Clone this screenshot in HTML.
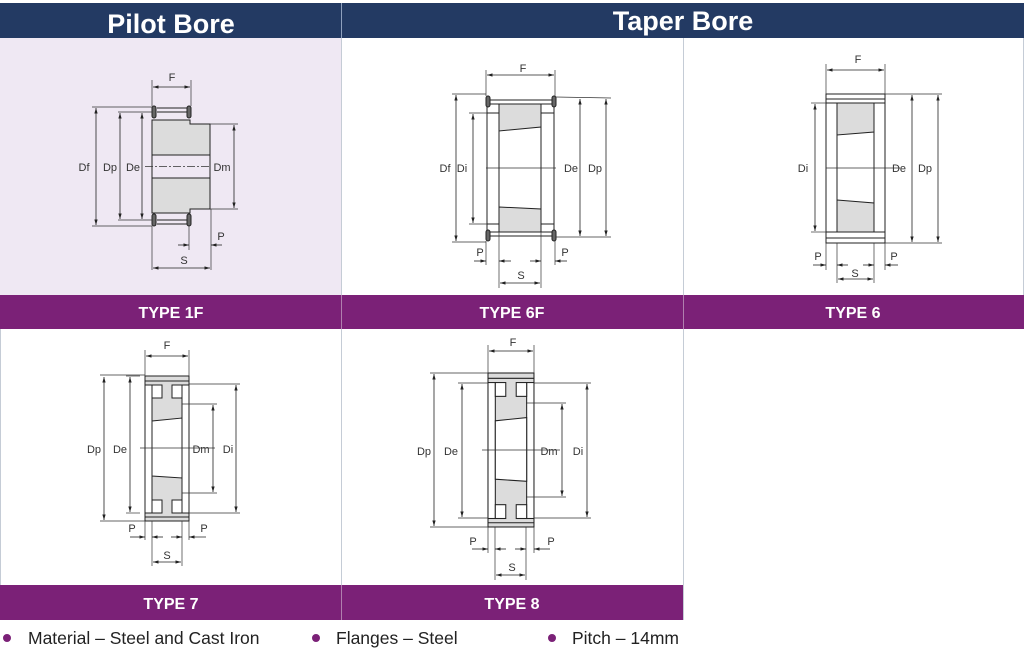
<!DOCTYPE html>
<html><head><meta charset="utf-8"><style>
html,body{margin:0;padding:0;background:#fff;}
svg{display:block;}
text{font-family:"Liberation Sans",sans-serif;}
</style></head><body>
<svg width="1024" height="664" viewBox="0 0 1024 664" xmlns="http://www.w3.org/2000/svg">
<defs>
<marker id="a" viewBox="0 0 10 10" refX="10" refY="5" markerWidth="7" markerHeight="7" orient="auto-start-reverse"><path d="M0,2 L10,5 L0,8 z" fill="#222"/></marker>
</defs>
<rect x="0" y="38" width="341" height="257" fill="#efe8f3"/>
<rect x="0" y="3" width="1024" height="35" fill="#233a63"/>
<line x1="341.5" y1="3" x2="341.5" y2="38" fill="none" stroke="#8fa0bd" stroke-width="1"/>
<text x="171" y="33" fill="#fff" font-size="27" font-weight="bold" text-anchor="middle">Pilot Bore</text>
<text x="683" y="30" fill="#fff" font-size="27" font-weight="bold" text-anchor="middle">Taper Bore</text>
<g stroke="#c5ccd6" stroke-width="1">
<line x1="341.5" y1="38" x2="341.5" y2="620"/>
<line x1="683.5" y1="38" x2="683.5" y2="329"/>
<line x1="1023.5" y1="38" x2="1023.5" y2="329"/>
<line x1="683.5" y1="329" x2="683.5" y2="620"/>
<line x1="0.5" y1="329" x2="0.5" y2="620"/>
</g>
<rect x="0" y="295" width="1024" height="34" fill="#7b2177"/>
<rect x="0" y="585" width="683" height="35" fill="#7b2177"/>
<g stroke="#b07fae"><line x1="341.5" y1="295" x2="341.5" y2="329"/><line x1="683.5" y1="295" x2="683.5" y2="329"/><line x1="341.5" y1="585" x2="341.5" y2="620"/></g>
<g fill="#fff" font-size="16" font-weight="bold" text-anchor="middle">
<text x="171" y="318">TYPE 1F</text><text x="512" y="318">TYPE 6F</text><text x="853" y="318">TYPE 6</text>
<text x="171" y="609">TYPE 7</text><text x="512" y="609">TYPE 8</text>
</g>
<g font-size="17.5" fill="#222">
<circle cx="7" cy="638" r="4" fill="#7b2177"/><text x="28" y="644">Material – Steel and Cast Iron</text>
<circle cx="316" cy="638" r="4" fill="#7b2177"/><text x="336" y="644">Flanges – Steel</text>
<circle cx="552" cy="638" r="4" fill="#7b2177"/><text x="572" y="644">Pitch – 14mm</text>
</g>

<!-- TYPE 1F -->
<g stroke="#222" stroke-width="1" fill="none">
<path d="M152,120 H190 V124 H210 V209 H190 V213 H152 Z" fill="#dcdcdc"/>
<rect x="152" y="155" width="58" height="23" fill="#efe8f3"/>
<line x1="157" y1="108" x2="188" y2="108"/><line x1="157" y1="112" x2="188" y2="112"/>
<line x1="157" y1="220" x2="188" y2="220"/><line x1="157" y1="224" x2="188" y2="224"/>
<rect x="152" y="106" width="4" height="12" rx="2" fill="#666"/><rect x="187" y="106" width="4" height="12" rx="2" fill="#666"/>
<rect x="152" y="214" width="4" height="12" rx="2" fill="#666"/><rect x="187" y="214" width="4" height="12" rx="2" fill="#666"/>
</g>
<g stroke="#333" stroke-width="0.7" fill="none">
<line x1="145" y1="166.5" x2="210" y2="166.5" stroke-dasharray="8,2,2,2"/>
<line x1="152" y1="80" x2="152" y2="106"/><line x1="191" y1="80" x2="191" y2="106"/>
<line x1="92" y1="107" x2="152" y2="107"/><line x1="92" y1="226" x2="152" y2="226"/>
<line x1="118" y1="112" x2="152" y2="112"/><line x1="118" y1="220" x2="152" y2="220"/>
<line x1="210" y1="124" x2="238" y2="124"/><line x1="210" y1="209" x2="238" y2="209"/>
<line x1="152" y1="226" x2="152" y2="270"/><line x1="211" y1="209" x2="211" y2="270"/><line x1="189" y1="226" x2="189" y2="250"/>
</g>
<g stroke="#222" stroke-width="0.8" marker-start="url(#a)" marker-end="url(#a)">
<line x1="96" y1="108" x2="96" y2="225"/><line x1="120" y1="113" x2="120" y2="219"/><line x1="142" y1="113" x2="142" y2="219"/>
<line x1="234" y1="125" x2="234" y2="208"/><line x1="153" y1="87" x2="190" y2="87"/><line x1="153" y1="268" x2="210" y2="268"/>
</g>
<g stroke="#222" stroke-width="0.8"><line x1="178" y1="245" x2="189" y2="245" marker-end="url(#a)"/><line x1="222" y1="245" x2="211" y2="245" marker-end="url(#a)"/></g>
<g font-size="11" fill="#333" text-anchor="middle">
<text x="84" y="171">Df</text><text x="110" y="171">Dp</text><text x="133" y="171">De</text><text x="222" y="171">Dm</text>
<text x="172" y="81">F</text><text x="221" y="240">P</text><text x="184" y="264">S</text>
</g>

<!-- TYPE 6F -->
<g stroke="#222" stroke-width="1" fill="none">
<path d="M499,104 H541 V127 L499,131 Z" fill="#dcdcdc"/>
<path d="M499,207 L541,209 V232 H499 Z" fill="#dcdcdc"/>
<line x1="499" y1="104" x2="541" y2="104"/><line x1="499" y1="232" x2="541" y2="232"/>
<rect x="487" y="113" width="12" height="111" fill="#fff"/><rect x="541" y="113" width="13" height="111" fill="#fff"/>
<line x1="489" y1="100" x2="553" y2="100"/><line x1="489" y1="104" x2="553" y2="104"/>
<line x1="489" y1="232" x2="553" y2="232"/><line x1="489" y1="236" x2="553" y2="236"/>
<line x1="487" y1="104" x2="487" y2="232"/><line x1="554" y1="104" x2="554" y2="232"/>
<rect x="486" y="96" width="4" height="11" rx="2" fill="#666"/><rect x="552" y="96" width="4" height="11" rx="2" fill="#666"/>
<rect x="486" y="230" width="4" height="11" rx="2" fill="#666"/><rect x="552" y="230" width="4" height="11" rx="2" fill="#666"/>
</g>
<g stroke="#333" stroke-width="0.7" fill="none">
<line x1="486" y1="168" x2="556" y2="168"/>
<line x1="486" y1="70" x2="486" y2="96"/><line x1="555" y1="70" x2="555" y2="96"/>
<line x1="452" y1="94" x2="486" y2="94"/><line x1="452" y1="242" x2="486" y2="242"/>
<line x1="469" y1="113" x2="487" y2="113"/><line x1="469" y1="224" x2="487" y2="224"/>
<line x1="556" y1="97" x2="611" y2="98"/><line x1="556" y1="237" x2="611" y2="237"/>
<line x1="486" y1="241" x2="486" y2="265"/><line x1="555" y1="241" x2="555" y2="265"/>
<line x1="499" y1="232" x2="499" y2="288"/><line x1="541" y1="232" x2="541" y2="288"/>
</g>
<g stroke="#222" stroke-width="0.8" marker-start="url(#a)" marker-end="url(#a)">
<line x1="456" y1="95" x2="456" y2="241"/><line x1="473" y1="114" x2="473" y2="223"/>
<line x1="580" y1="99" x2="580" y2="236"/><line x1="606" y1="99" x2="606" y2="236"/>
<line x1="487" y1="75" x2="554" y2="75"/><line x1="500" y1="283" x2="540" y2="283"/>
</g>
<g stroke="#222" stroke-width="0.8"><line x1="474" y1="261" x2="486" y2="261" marker-end="url(#a)"/><line x1="511" y1="261" x2="499" y2="261" marker-end="url(#a)"/>
<line x1="530" y1="261" x2="541" y2="261" marker-end="url(#a)"/><line x1="567" y1="261" x2="555" y2="261" marker-end="url(#a)"/></g>
<g font-size="11" fill="#333" text-anchor="middle">
<text x="445" y="172">Df</text><text x="462" y="172">Di</text><text x="571" y="172">De</text><text x="595" y="172">Dp</text>
<text x="523" y="72">F</text><text x="480" y="256">P</text><text x="565" y="256">P</text><text x="521" y="279">S</text>
</g>

<!-- TYPE 6 -->
<g stroke="#222" stroke-width="1" fill="none">
<path d="M837,103 H874 V132 L837,135 Z" fill="#dcdcdc"/>
<path d="M837,200 L874,203 V232 H837 Z" fill="#dcdcdc"/>
<rect x="826" y="94" width="59" height="149" fill="none"/>
<line x1="826" y1="99" x2="885" y2="99"/><line x1="826" y1="103" x2="885" y2="103"/>
<line x1="826" y1="232" x2="885" y2="232"/><line x1="826" y1="238" x2="885" y2="238"/>
<rect x="826" y="103" width="11" height="129" fill="#fff"/><rect x="874" y="103" width="11" height="129" fill="#fff"/>
</g>
<g stroke="#333" stroke-width="0.7" fill="none">
<line x1="826" y1="168" x2="900" y2="168"/>
<line x1="826" y1="64" x2="826" y2="94"/><line x1="885" y1="64" x2="885" y2="94"/>
<line x1="811" y1="103" x2="826" y2="103"/><line x1="811" y1="232" x2="826" y2="232"/>
<line x1="885" y1="94" x2="942" y2="94"/><line x1="885" y1="243" x2="942" y2="243"/>
<line x1="826" y1="243" x2="826" y2="270"/><line x1="885" y1="243" x2="885" y2="270"/>
<line x1="837" y1="243" x2="837" y2="283"/><line x1="874" y1="243" x2="874" y2="283"/>
</g>
<g stroke="#222" stroke-width="0.8" marker-start="url(#a)" marker-end="url(#a)">
<line x1="815" y1="104" x2="815" y2="231"/><line x1="912" y1="95" x2="912" y2="242"/><line x1="938" y1="95" x2="938" y2="242"/>
<line x1="827" y1="70" x2="884" y2="70"/><line x1="838" y1="279" x2="873" y2="279"/>
</g>
<g stroke="#222" stroke-width="0.8"><line x1="813" y1="265" x2="826" y2="265" marker-end="url(#a)"/><line x1="848" y1="265" x2="837" y2="265" marker-end="url(#a)"/>
<line x1="863" y1="265" x2="874" y2="265" marker-end="url(#a)"/><line x1="898" y1="265" x2="885" y2="265" marker-end="url(#a)"/></g>
<g font-size="11" fill="#333" text-anchor="middle">
<text x="803" y="172">Di</text><text x="899" y="172">De</text><text x="925" y="172">Dp</text>
<text x="858" y="63">F</text><text x="818" y="260">P</text><text x="894" y="260">P</text><text x="855" y="277">S</text>
</g>

<!-- TYPE 7 -->
<g stroke="#222" stroke-width="1">
<rect x="145" y="376" width="44" height="145" fill="#dcdcdc"/>
<rect x="145" y="385" width="7" height="128" fill="#fff"/><rect x="182" y="385" width="7" height="128" fill="#fff"/>
<rect x="152" y="385" width="10" height="13" fill="#fff"/><rect x="172" y="385" width="10" height="13" fill="#fff"/>
<rect x="152" y="500" width="10" height="13" fill="#fff"/><rect x="172" y="500" width="10" height="13" fill="#fff"/>
<path d="M152,421 L182,418 V478 L152,476 Z" fill="#fff"/>
<line x1="145" y1="381" x2="189" y2="381"/><line x1="145" y1="517" x2="189" y2="517"/>
</g>
<g stroke="#333" stroke-width="0.7" fill="none">
<line x1="140" y1="448" x2="215" y2="448"/>
<line x1="145" y1="350" x2="145" y2="376"/><line x1="189" y1="350" x2="189" y2="376"/>
<line x1="100" y1="375" x2="145" y2="375"/><line x1="100" y1="521" x2="145" y2="521"/><line x1="126" y1="376" x2="140" y2="376"/><line x1="126" y1="513" x2="140" y2="513"/>
<line x1="182" y1="404" x2="217" y2="404"/><line x1="182" y1="493" x2="217" y2="493"/>
<line x1="189" y1="384" x2="240" y2="384"/><line x1="189" y1="513" x2="240" y2="513"/>
<line x1="145" y1="521" x2="145" y2="540"/><line x1="189" y1="521" x2="189" y2="540"/>
<line x1="152" y1="521" x2="152" y2="566"/><line x1="182" y1="521" x2="182" y2="566"/>
</g>
<g stroke="#222" stroke-width="0.8" marker-start="url(#a)" marker-end="url(#a)">
<line x1="104" y1="377" x2="104" y2="520"/><line x1="130" y1="377" x2="130" y2="512"/>
<line x1="213" y1="405" x2="213" y2="492"/><line x1="236" y1="385" x2="236" y2="512"/>
<line x1="146" y1="356" x2="188" y2="356"/><line x1="153" y1="562" x2="181" y2="562"/>
</g>
<g stroke="#222" stroke-width="0.8"><line x1="130" y1="537" x2="145" y2="537" marker-end="url(#a)"/><line x1="163" y1="537" x2="152" y2="537" marker-end="url(#a)"/>
<line x1="171" y1="537" x2="182" y2="537" marker-end="url(#a)"/><line x1="206" y1="537" x2="189" y2="537" marker-end="url(#a)"/></g>
<g font-size="11" fill="#333" text-anchor="middle">
<text x="94" y="453">Dp</text><text x="120" y="453">De</text><text x="201" y="453">Dm</text><text x="228" y="453">Di</text>
<text x="167" y="349">F</text><text x="132" y="532">P</text><text x="204" y="532">P</text><text x="167" y="559">S</text>
</g>

<!-- TYPE 8 -->
<g transform="translate(488,373) scale(1.045,1.062) translate(-145,-376)" stroke="#222" stroke-width="1">
<rect x="145" y="376" width="44" height="145" fill="#dcdcdc"/>
<rect x="145" y="385" width="7" height="128" fill="#fff"/><rect x="182" y="385" width="7" height="128" fill="#fff"/>
<rect x="152" y="385" width="10" height="13" fill="#fff"/><rect x="172" y="385" width="10" height="13" fill="#fff"/>
<rect x="152" y="500" width="10" height="13" fill="#fff"/><rect x="172" y="500" width="10" height="13" fill="#fff"/>
<path d="M152,421 L182,418 V478 L152,476 Z" fill="#fff"/>
<line x1="145" y1="381" x2="189" y2="381"/><line x1="145" y1="517" x2="189" y2="517"/>
</g>
<g stroke="#333" stroke-width="0.7" fill="none">
<line x1="482" y1="450" x2="560" y2="450"/>
<line x1="488" y1="345" x2="488" y2="373"/><line x1="534" y1="345" x2="534" y2="373"/>
<line x1="430" y1="373" x2="488" y2="373"/><line x1="430" y1="527" x2="488" y2="527"/><line x1="458" y1="383" x2="488" y2="383"/><line x1="458" y1="518" x2="488" y2="518"/>
<line x1="526" y1="403" x2="566" y2="403"/><line x1="526" y1="497" x2="566" y2="497"/>
<line x1="534" y1="383" x2="591" y2="383"/><line x1="534" y1="518" x2="591" y2="518"/>
<line x1="488" y1="527" x2="488" y2="553"/><line x1="534" y1="527" x2="534" y2="553"/>
<line x1="495" y1="527" x2="495" y2="580"/><line x1="526" y1="527" x2="526" y2="580"/>
</g>
<g stroke="#222" stroke-width="0.8" marker-start="url(#a)" marker-end="url(#a)">
<line x1="434" y1="374" x2="434" y2="526"/><line x1="462" y1="384" x2="462" y2="517"/>
<line x1="562" y1="404" x2="562" y2="496"/><line x1="587" y1="384" x2="587" y2="517"/>
<line x1="489" y1="351" x2="533" y2="351"/><line x1="496" y1="575" x2="525" y2="575"/>
</g>
<g stroke="#222" stroke-width="0.8"><line x1="472" y1="549" x2="488" y2="549" marker-end="url(#a)"/><line x1="506" y1="549" x2="495" y2="549" marker-end="url(#a)"/>
<line x1="515" y1="549" x2="526" y2="549" marker-end="url(#a)"/><line x1="550" y1="549" x2="534" y2="549" marker-end="url(#a)"/></g>
<g font-size="11" fill="#333" text-anchor="middle">
<text x="424" y="455">Dp</text><text x="451" y="455">De</text><text x="549" y="455">Dm</text><text x="578" y="455">Di</text>
<text x="513" y="346">F</text><text x="473" y="545">P</text><text x="551" y="545">P</text><text x="512" y="571">S</text>
</g>
</svg>
</body></html>
